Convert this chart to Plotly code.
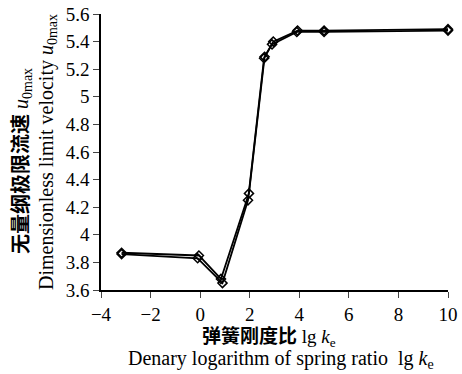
import plotly.graph_objects as go

# Data
lgk_a = [-3.17, -0.05, 0.84, 1.97, 2.60, 2.95, 3.93, 5.0, 10.0]
u_a = [3.87, 3.85, 3.68, 4.30, 5.29, 5.40, 5.48, 5.48, 5.49]
lgk_b = [-3.17, -0.10, 0.90, 1.93, 2.58, 2.90, 3.90, 5.0, 10.0]
u_b = [3.86, 3.83, 3.65, 4.25, 5.28, 5.38, 5.47, 5.47, 5.48]

x_ticks = [-4, -2, 0, 2, 4, 6, 8, 10]
x_labels = ["\u22124", "\u22122", "0", "2", "4", "6", "8", "10"]
y_ticks = [3.6, 3.8, 4.0, 4.2, 4.4, 4.6, 4.8, 5.0, 5.2, 5.4, 5.6]

serif = "Times New Roman, Liberation Serif, serif"

fig = go.Figure()
for xs, ys in [(lgk_a, u_a), (lgk_b, u_b)]:
    fig.add_trace(go.Scatter(
        x=xs, y=ys, mode="lines+markers",
        line=dict(color="black", width=1.8),
        marker=dict(symbol="diamond-open", size=7, color="black", line=dict(width=1.5, color="black")),
        showlegend=False, cliponaxis=False,
    ))

fig.update_layout(
    width=462, height=374,
    margin=dict(l=101, r=14, t=14, b=84),
    paper_bgcolor="white", plot_bgcolor="white",
    font=dict(family=serif, size=19, color="black"),
    xaxis=dict(range=[-4, 10], tickvals=x_ticks, ticktext=x_labels, ticks="outside", ticklen=6,
               showline=True, linecolor="black", linewidth=1.5, showgrid=False,
               zeroline=False, automargin=False, tickfont=dict(family=serif, size=19)),
    yaxis=dict(range=[3.6, 5.6], tickvals=y_ticks, ticks="outside", ticklen=6,
               showline=True, linecolor="black", linewidth=1.5, showgrid=False,
               zeroline=False, automargin=False, tickfont=dict(family=serif, size=19)),
    annotations=[
        dict(xref="paper", yref="paper", x=0.5, y=0, xshift=-6, yshift=-45,
             xanchor="center", yanchor="middle", showarrow=False,
             text="<b><span style='font-family:Noto Sans CJK SC'>弹簧刚度比</span></b> lg <i>k</i><sub>e</sub>",
             font=dict(family=serif, size=19)),
        dict(xref="paper", yref="paper", x=0.5, y=0, xshift=6, yshift=-69,
             xanchor="center", yanchor="middle", showarrow=False,
             text="Denary logarithm of spring ratio  lg <i>k</i><sub>e</sub>",
             font=dict(family=serif, size=20)),
        dict(xref="paper", yref="paper", x=0, y=0.5, xshift=-81, yshift=-9,
             xanchor="center", yanchor="middle", showarrow=False, textangle=-90,
             text="<b><span style='font-family:Noto Sans CJK SC'>无量纲极限流速</span></b> <i>u</i><sub>0max</sub>",
             font=dict(family=serif, size=20)),
        dict(xref="paper", yref="paper", x=0, y=0.5, xshift=-54, yshift=0,
             xanchor="center", yanchor="middle", showarrow=False, textangle=-90,
             text="Dimensionless limit velocity <i>u</i><sub>0max</sub>",
             font=dict(family=serif, size=20)),
    ],
)

fig.write_html("out.html", config={"displayModeBar": False},
               post_script="document.body.style.margin='0';")
